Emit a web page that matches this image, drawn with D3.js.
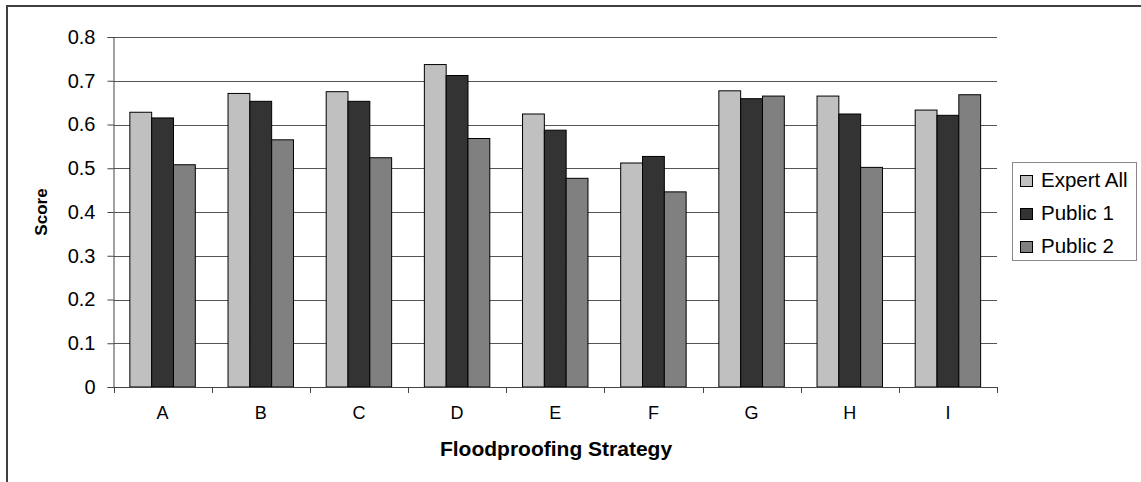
<!DOCTYPE html>
<html><head><meta charset="utf-8">
<script src="https://cdn.jsdelivr.net/npm/d3@7"></script>
<style>body{margin:0;background:#fff}svg{display:block}text{font-family:"Liberation Sans",Arial,sans-serif}</style>
</head><body><svg id="c" width="1141" height="482"></svg>
<script>
const categories = ["A","B","C","D","E","F","G","H","I"];
const seriesNames = ["Expert All","Public 1","Public 2"];
const expertAll = [0.628,0.671,0.675,0.737,0.624,0.512,0.677,0.665,0.633];
const public1   = [0.615,0.653,0.653,0.712,0.587,0.527,0.659,0.624,0.621];
const public2   = [0.508,0.565,0.524,0.568,0.477,0.446,0.665,0.502,0.668];
const yTicks = [0,0.1,0.2,0.3,0.4,0.5,0.6,0.7,0.8];
const colors = ["#c0c0c0","#333333","#808080"];

const svg = d3.select("#c");
const series = [expertAll, public1, public2];
const L=113.5, R=997, T=37, B=387;
const FF = "Liberation Sans, Arial, sans-serif";

// outer border
svg.append("path").attr("d","M7,482 V6 H1141").attr("fill","none").attr("stroke","#404040").attr("stroke-width",2);

const x = d3.scaleBand().domain(categories).range([L,R]).paddingInner(0).paddingOuter(0);
const y = d3.scaleLinear().domain([0,0.8]).range([B,T]);
const gap = 1.5;
const bw = x.bandwidth()/(3+gap);

// gridlines
svg.append("g").selectAll("line").data(yTicks.filter(d=>d>0)).join("line")
  .attr("x1",L).attr("x2",R).attr("y1",d=>Math.round(y(d))+0.5).attr("y2",d=>Math.round(y(d))+0.5)
  .attr("stroke","#555").attr("stroke-width",1);

// bars
const g = svg.append("g");
series.forEach((s,i)=>{
  g.selectAll(null).data(s).join("rect")
    .attr("x",(d,j)=>x(categories[j])+bw*gap/2+i*bw)
    .attr("y",d=>y(d)).attr("width",bw).attr("height",d=>B-y(d))
    .attr("fill",colors[i]).attr("stroke","#000").attr("stroke-width",1);
});

// y axis
const ya = svg.append("g").attr("transform",`translate(${L},0)`)
  .call(d3.axisLeft(y).tickValues(yTicks).tickFormat(d=>d===0?"0":d3.format(".1f")(d)).tickSizeOuter(0).tickSize(6).tickPadding(12));
ya.select(".domain").attr("stroke","#444");
ya.selectAll(".tick line").attr("stroke","#444");
ya.selectAll("text").attr("font-size",20).attr("fill","#000").attr("font-family",FF);

// x axis
const xa = svg.append("g").attr("transform",`translate(0,${B})`)
  .call(d3.axisBottom(x).tickSize(0).tickPadding(19));
xa.select(".domain").attr("stroke","#444");
xa.selectAll("text").attr("font-size",18).attr("fill","#000").attr("font-family",FF);
svg.append("g").selectAll("line").data(categories.concat(["end"])).join("line")
  .attr("x1",(d,j)=>Math.round(L+j*x.bandwidth())+0.5).attr("x2",(d,j)=>Math.round(L+j*x.bandwidth())+0.5)
  .attr("y1",B).attr("y2",B+6).attr("stroke","#444");

// axis titles
svg.append("text").attr("x",556).attr("y",456).attr("text-anchor","middle")
  .attr("font-size",21).attr("font-weight","bold").text("Floodproofing Strategy");
svg.append("text").attr("transform",`translate(47,${(T+B)/2}) rotate(-90)`).attr("text-anchor","middle")
  .attr("font-size",17).attr("font-weight","bold").text("Score");

// legend
const lg = svg.append("g");
lg.append("rect").attr("x",1012.5).attr("y",162.5).attr("width",124).attr("height",98)
  .attr("fill","#fff").attr("stroke","#888").attr("stroke-width",1);
seriesNames.forEach((n,i)=>{
  const base = 187+i*33;
  lg.append("rect").attr("x",1020.5).attr("y",base-11.5).attr("width",12).attr("height",11)
    .attr("fill",colors[i]).attr("stroke","#000");
  lg.append("text").attr("x",1041).attr("y",base).attr("font-size",20.5).text(n);
});
</script></body></html>
